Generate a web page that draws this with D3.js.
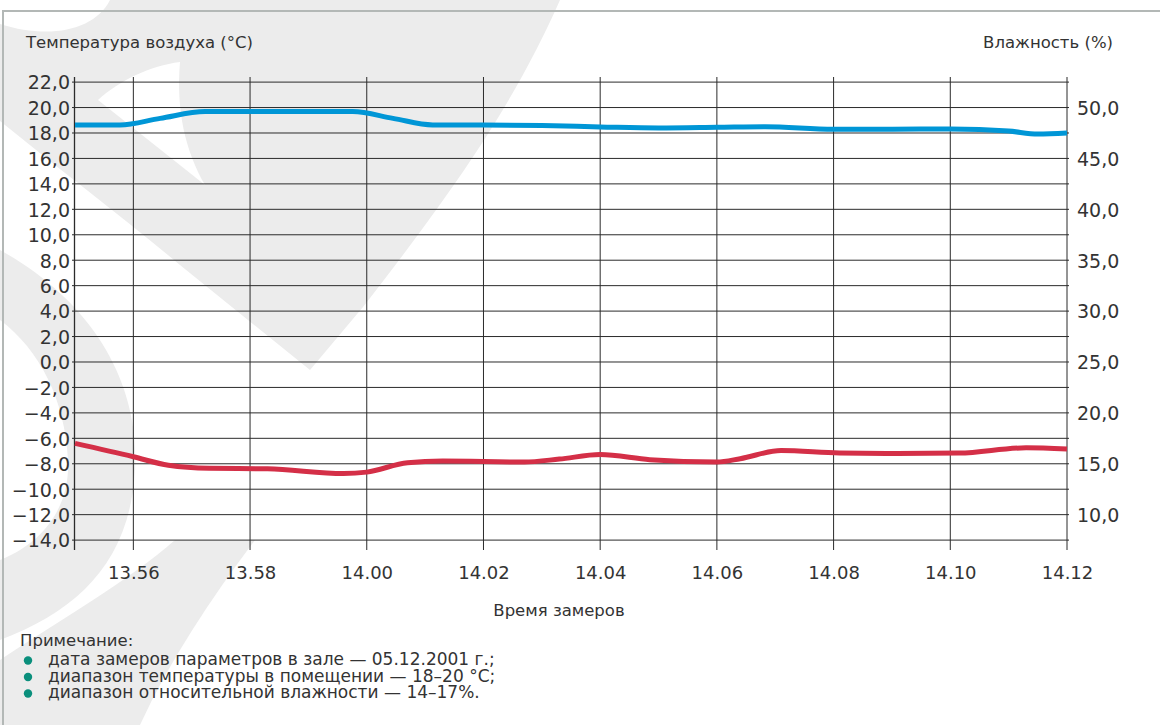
<!DOCTYPE html>
<html>
<head>
<meta charset="utf-8">
<script src="https://cdn.jsdelivr.net/npm/d3@7"></script>
<style>
  body { margin: 0; background: #fff; }
  svg text { fill: #333; font-family: "DejaVu Sans", sans-serif; }
</style>
</head>
<body>
<div id="chart"></div>
<script>
(function(){
// ---- data ----
// time in minutes after midnight (835 = 13.55)
const tempTime = [835, 835.77, 836.46, 837.23, 839.76, 840.45, 841.13, 842, 843, 844, 845, 846, 846.83, 848, 849, 850, 851, 851.5, 852];
const tempVals = [18.63, 18.63, 19.15, 19.68, 19.68, 19.15, 18.63, 18.62, 18.58, 18.48, 18.4, 18.45, 18.5, 18.3, 18.3, 18.32, 18.15, 17.92, 18.0];

const humTime = [835, 836, 836.6, 837.3, 838.3, 839.6, 840, 840.7, 841.3, 842.7, 843.3, 844, 844.85, 846, 846.4, 847.1, 848.1, 849.1, 850.15, 851.3, 852];
const humVals = [17.0, 15.69, 14.85, 14.55, 14.5, 14.04, 14.18, 15.1, 15.26, 15.17, 15.46, 15.9, 15.4, 15.17, 15.5, 16.3, 16.05, 16.0, 16.05, 16.57, 16.45];

const xTicks = [836, 838, 840, 842, 844, 846, 848, 850, 852];
const xTickLabels = ["13.56", "13.58", "14.00", "14.02", "14.04", "14.06", "14.08", "14.10", "14.12"];
const tempTicks = d3.range(-14, 23, 2);
const humTicks = [10, 15, 20, 25, 30, 35, 40, 45, 50];

const notes = [
	"дата замеров параметров в зале — 05.12.2001 г.;",
	"диапазон температуры в помещении — 18–20 °С;",
	"диапазон относительной влажности — 14–17%."
];

const BLUE = "#0096d6", RED = "#d42f47", GRID = "#2b2b2b";

const width = 1160, height = 725;
const svg = d3.select("#chart").append("svg")
			  .attr("width", width)
			  .attr("height", height);

// watermark (faint logo behind the chart)
const wm = svg.append("g").attr("fill", "#ececec");
wm.append("path").attr("d", "M110,0 L560,0 C520,90 470,170 363,307 L310,370 L180,265 C120,215 60,170 0,121 L0,24 C50,40 95,30 110,0 Z");
wm.append("path").attr("fill", "#fff")
  .attr("d", "M180,62 C150,66 120,80 98,100 L205,185 C185,150 176,110 180,62 Z");
wm.append("path").attr("d", "M0,250 C90,300 140,380 135,470 C130,560 80,610 0,640 L0,560 C50,540 70,500 68,460 C65,400 40,350 0,320 Z");
wm.append("path").attr("d", "M0,660 C60,620 130,580 175,540 L255,540 C210,600 170,660 140,725 L0,725 Z");

// frame
svg.append("path")
   .attr("d", "M3,725 L3,11 L1160,11")
   .attr("fill", "none")
   .attr("stroke", "#b3b8b6")
   .attr("stroke-width", 2);

const x = d3.scaleLinear().domain([835, 852]).range([75, 1067]);
const yT = d3.scaleLinear().domain([-14, 22]).range([540.1, 82.1]);
const yH = d3.scaleLinear().domain([7.5, 52.5]).range([540.1, 82.1]);

const g = svg.append("g");

// horizontal grid
g.selectAll(".hgrid")
 .data(tempTicks)
 .enter().append("line")
 .attr("x1", 72).attr("x2", 1069)
 .attr("y1", d => yT(d)).attr("y2", d => yT(d))
 .attr("stroke", GRID).attr("stroke-width", 1);

// vertical grid + ticks
g.selectAll(".vgrid")
 .data(xTicks)
 .enter().append("line")
 .attr("x1", d => x(d)).attr("x2", d => x(d))
 .attr("y1", 77).attr("y2", 550)
 .attr("stroke", GRID).attr("stroke-width", 1);

// axis lines
g.append("line").attr("x1", 74.5).attr("x2", 74.5).attr("y1", 77).attr("y2", 550)
 .attr("stroke", GRID).attr("stroke-width", 1.3);

// left axis labels
const leftAxis = d3.axisLeft(yT).tickValues(tempTicks).tickSize(0).tickPadding(4)
	.tickFormat(d => d3.format(".1f")(d).replace(".", ",").replace("-", "−"));
const la = svg.append("g").attr("transform", "translate(74,0)").call(leftAxis);
la.select(".domain").remove();
la.selectAll("text").attr("font-size", 19).attr("fill", "#333").attr("dy", "0.36em");

// right axis labels
const rightAxis = d3.axisRight(yH).tickValues(humTicks).tickSize(0).tickPadding(10)
	.tickFormat(d => d3.format(".1f")(d).replace(".", ","));
const ra = svg.append("g").attr("transform", "translate(1067,0)").call(rightAxis);
ra.select(".domain").remove();
ra.selectAll("text").attr("font-size", 19).attr("fill", "#333").attr("dy", "0.36em");

// bottom axis labels
const bottomAxis = d3.axisBottom(x).tickValues(xTicks).tickSize(0).tickPadding(0)
	.tickFormat((d, i) => xTickLabels[i]);
const ba = svg.append("g").attr("transform", "translate(0,540)").call(bottomAxis);
ba.select(".domain").remove();
ba.selectAll("text").attr("font-size", 18).attr("fill", "#333").attr("dy", null).attr("y", 39);

// lines
const tempLine = d3.line()
	.x((d, i) => x(tempTime[i]))
	.y(d => yT(d))
	.curve(d3.curveMonotoneX);
const humLine = d3.line()
	.x((d, i) => x(humTime[i]))
	.y(d => yH(d))
	.curve(d3.curveMonotoneX);

svg.append("path").datum(tempVals)
   .attr("d", tempLine)
   .attr("fill", "none").attr("stroke", BLUE).attr("stroke-width", 5);
svg.append("path").datum(humVals)
   .attr("d", humLine)
   .attr("fill", "none").attr("stroke", RED).attr("stroke-width", 5);

// titles
svg.append("text").attr("x", 26).attr("y", 48).attr("font-size", 16.5)
   .text("Температура воздуха (°С)");
svg.append("text").attr("x", 1113).attr("y", 48).attr("font-size", 16.5)
   .attr("text-anchor", "end").text("Влажность (%)");
svg.append("text").attr("x", 559).attr("y", 616).attr("font-size", 16.5)
   .attr("text-anchor", "middle").text("Время замеров");

// notes
svg.append("text").attr("x", 20).attr("y", 646).attr("font-size", 16.5)
   .text("Примечание:");
const nt = svg.selectAll(".note")
	.data(notes)
	.enter().append("g")
	.attr("transform", (d, i) => "translate(0," + (665 + i * 16.5) + ")");
nt.append("circle").attr("cx", 28).attr("cy", -4.5).attr("r", 4.2).attr("fill", "#0a8f7c");
nt.append("text").attr("x", 48).attr("font-size", 17).text(d => d);
})();
</script>
</body>
</html>
